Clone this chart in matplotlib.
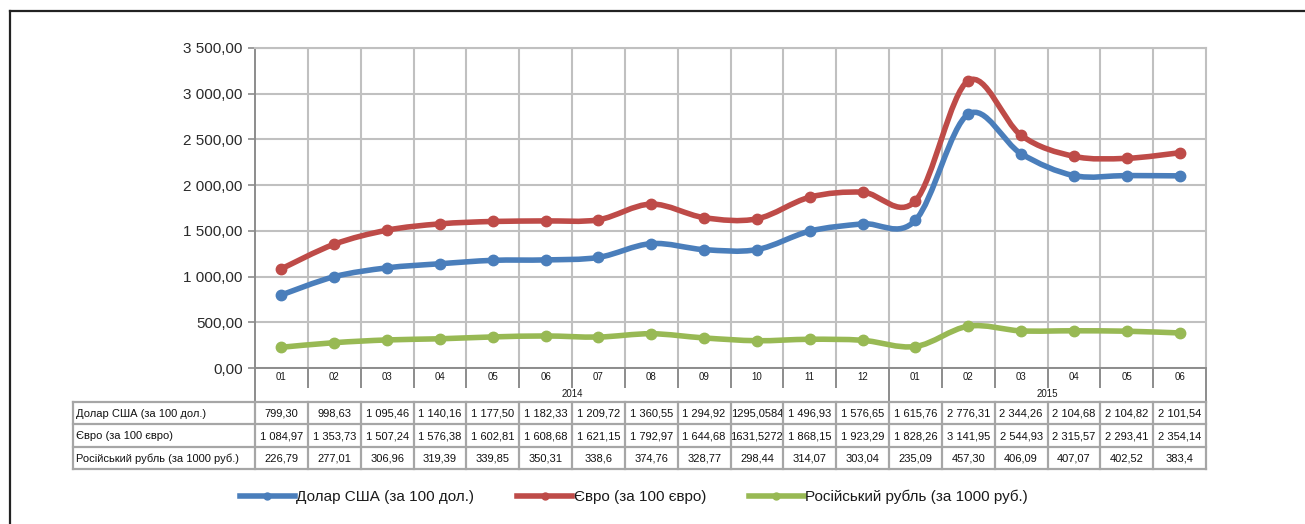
import matplotlib
matplotlib.use('Agg')
import matplotlib.pyplot as plt
from matplotlib.path import Path
from matplotlib.patches import PathPatch
from matplotlib.lines import Line2D
from matplotlib.transforms import blended_transform_factory
import numpy as np

plt.rcParams['font.family'] = ['Liberation Sans', 'DejaVu Sans']

# ---------------- data ----------------
months = ['01', '02', '03', '04', '05', '06', '07', '08', '09', '10', '11', '12',
          '01', '02', '03', '04', '05', '06']
years = ['2014', '2015']
year_first_idx = [0, 12]
year_last_idx = [11, 17]

series_names = ['Долар США (за 100 дол.)', 'Євро (за 100 євро)',
                'Російський рубль (за 1000 руб.)']

usd_text = ['799,30', '998,63', '1 095,46', '1 140,16', '1 177,50', '1 182,33',
            '1 209,72', '1 360,55', '1 294,92', '1295,0584', '1 496,93', '1 576,65',
            '1 615,76', '2 776,31', '2 344,26', '2 104,68', '2 104,82', '2 101,54']
eur_text = ['1 084,97', '1 353,73', '1 507,24', '1 576,38', '1 602,81', '1 608,68',
            '1 621,15', '1 792,97', '1 644,68', '1631,5272', '1 868,15', '1 923,29',
            '1 828,26', '3 141,95', '2 544,93', '2 315,57', '2 293,41', '2 354,14']
rub_text = ['226,79', '277,01', '306,96', '319,39', '339,85', '350,31',
            '338,6', '374,76', '328,77', '298,44', '314,07', '303,04',
            '235,09', '457,30', '406,09', '407,07', '402,52', '383,4']

colors = ['#4A7EBB', '#BE4B48', '#98B954']
y_ticks = [0, 500, 1000, 1500, 2000, 2500, 3000, 3500]


def to_val(s):
    return float(s.replace(' ', '').replace(',', '.'))


series_text = [usd_text, eur_text, rub_text]
series_vals = [np.array([to_val(s) for s in t]) for t in series_text]

# ---------------- layout ----------------
W, H = 1305, 524
fig = plt.figure(figsize=(W / 100, H / 100), dpi=100)


def fx(px):
    return px / W


def fy(py):
    return 1 - py / H


L, R, T, B = 255, 1206, 48, 368
ax = fig.add_axes([fx(L), fy(B), fx(R) - fx(L), fy(T) - fy(B)])
n = len(months)
ax.set_xlim(-0.5, n - 0.5)
ax.set_ylim(0, 3500)

grid_c = '#C0C0C0'
dark_c = '#8C8C8C'
ax.set_yticks(y_ticks)
ax.set_yticklabels([f"{v:,.2f}".replace(',', ' ').replace('.', ',') for v in y_ticks],
                   fontsize=11, color='#2A2A2A')
ax.tick_params(axis='y', length=5, width=1.2, color=dark_c, pad=4)
ax.set_xticks([])
ax.yaxis.grid(True, color=grid_c, lw=1.5)
ax.set_axisbelow(True)
for b in np.arange(0.5, n - 0.5):
    ax.axvline(b, color=grid_c, lw=1.5, zorder=0)
for s in ['top', 'right']:
    ax.spines[s].set_color(grid_c)
    ax.spines[s].set_linewidth(1.5)
for s in ['left', 'bottom']:
    ax.spines[s].set_color(dark_c)
    ax.spines[s].set_linewidth(1.4)

# ---------------- smoothed lines ----------------
x = np.arange(n, dtype=float)
for vals, c in zip(series_vals, colors):
    pts = np.column_stack([x, vals])
    verts = [pts[0]]
    codes = [Path.MOVETO]
    for i in range(n - 1):
        p0 = pts[i - 1] if i > 0 else pts[i]
        p1 = pts[i]
        p2 = pts[i + 1]
        p3 = pts[i + 2] if i + 2 < n else pts[i + 1]
        c1 = p1 + (p2 - p0) / 6.0
        c2 = p2 - (p3 - p1) / 6.0
        verts += [c1, c2, p2]
        codes += [Path.CURVE4] * 3
    ax.add_patch(PathPatch(Path(verts, codes), fill=False, edgecolor=c, lw=4.0,
                           capstyle='round', joinstyle='round', zorder=3))
    ax.plot(x, vals, 'o', color=c, ms=7.5, zorder=4)

# ---------------- category axis / table ----------------
bt = blended_transform_factory(ax.transData, fig.transFigure)
ft = fig.transFigure
line_kw = dict(lw=1.4, solid_capstyle='butt')

month_bot, year_bot = 385, 401.5
row_edges = [401.5, 424, 446.5, 469]
tab_left = 73

# month labels and ticks
for i, m in enumerate(months):
    ax.text(i, fy((B + month_bot) / 2 + 1), m, transform=bt, ha='center', va='center',
            fontsize=7, color='#1A1A1A')
for b in np.arange(0.5, n - 0.5):
    if b == 11.5:
        continue
    fig.add_artist(Line2D([b, b], [fy(B), fy(month_bot + 3)], transform=bt,
                          color=dark_c, **line_kw))
# year separators and labels
for b in [-0.5, 11.5, n - 0.5]:
    fig.add_artist(Line2D([b, b], [fy(B), fy(year_bot)], transform=bt,
                          color=dark_c, **line_kw))
for yl, a, z in zip(years, year_first_idx, year_last_idx):
    ax.text((a + z) / 2, fy((month_bot + year_bot) / 2 + 0.5), yl, transform=bt,
            ha='center', va='center', fontsize=7, color='#1A1A1A')

# table grid
tab_c = '#A6A6A6'
for ye in row_edges:
    fig.add_artist(Line2D([fx(tab_left), fx(R)], [fy(ye), fy(ye)], transform=ft,
                          color=tab_c, lw=1.6))
fig.add_artist(Line2D([fx(tab_left), fx(tab_left)], [fy(row_edges[0]), fy(row_edges[-1])],
                      transform=ft, color=tab_c, lw=1.6))
for b in np.arange(-0.5, n):
    fig.add_artist(Line2D([b, b], [fy(row_edges[0]), fy(row_edges[-1])], transform=bt,
                          color=tab_c, lw=1.6))

for r, (name, texts) in enumerate(zip(series_names, series_text)):
    yc = fy((row_edges[r] + row_edges[r + 1]) / 2 + 1)
    fig.text(fx(tab_left + 3), yc, name, ha='left', va='center', fontsize=8, color='#111111')
    for i, t in enumerate(texts):
        ax.text(i, yc, t, transform=bt, ha='center', va='center', fontsize=8,
                color='#111111', clip_on=False)

# ---------------- legend ----------------
handles = [Line2D([], [], color=c, lw=4.0, marker='o', ms=5) for c in colors]
fig.legend(handles, series_names, loc='center', bbox_to_anchor=(fx(634), fy(497)),
           ncol=3, frameon=False, fontsize=11, handlelength=3.6, handletextpad=0.1,
           columnspacing=2.8, labelcolor='#1A1A1A')

# ---------------- outer frame ----------------
fig.add_artist(Line2D([fx(10), fx(W)], [fy(11), fy(11)], transform=ft, color='#222222', lw=1.6))
fig.add_artist(Line2D([fx(10), fx(10)], [fy(11), fy(H)], transform=ft, color='#222222', lw=1.6))

fig.savefig('out.png', dpi=100)
